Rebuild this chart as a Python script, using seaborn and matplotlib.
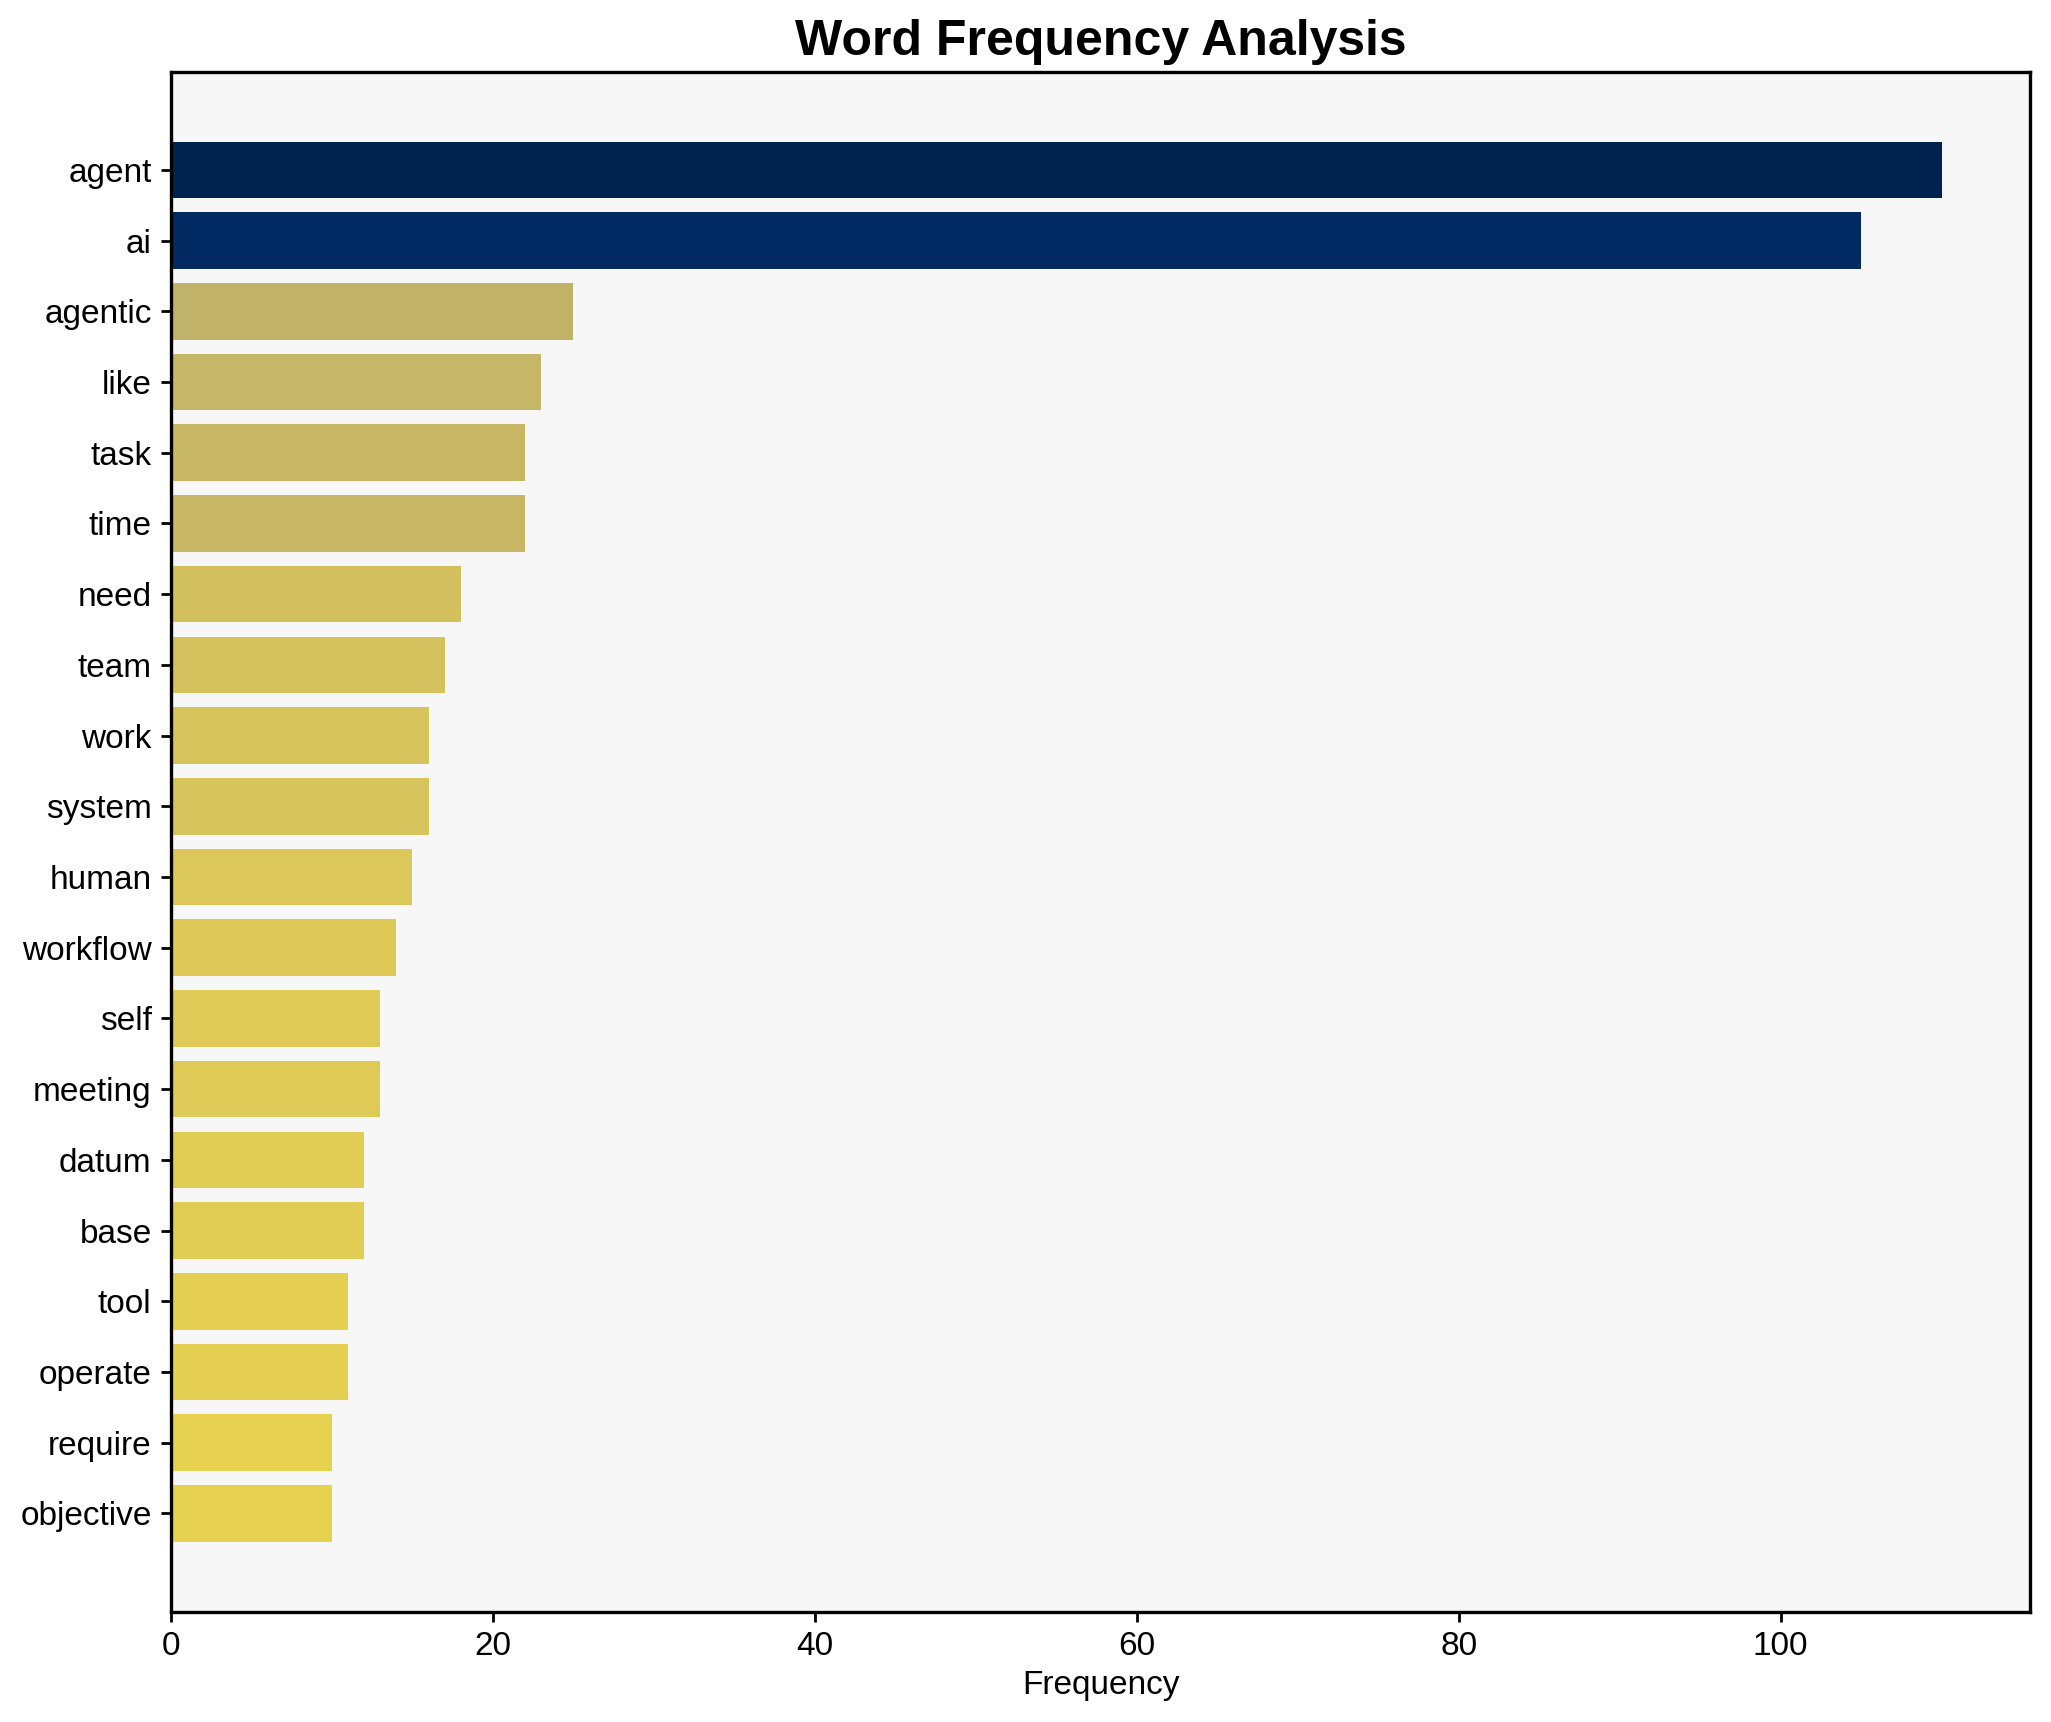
# Import libraries
import pandas as pd
import matplotlib
matplotlib.use("Agg")
import matplotlib.pyplot as plt
import seaborn as sns

# Word counts
words = ["agent", "ai", "agentic", "like", "task", "time", "need", "team",
         "work", "system", "human", "workflow", "self", "meeting", "datum",
         "base", "tool", "operate", "require", "objective"]
counts = [110, 105, 25, 23, 22, 22, 18, 17, 16, 16, 15, 14, 13, 13, 12,
          12, 11, 11, 10, 10]

df = pd.DataFrame({"word": words, "count": counts})

# colour each bar by its share of the top count (dark = frequent)
top = max(counts)
colors = [plt.cm.cividis(1 - c / top) for c in counts]

sns.set_style("white")
plt.rcParams["font.family"] = ["Liberation Sans", "DejaVu Sans"]
plt.rcParams["text.color"] = "black"
plt.rcParams["axes.labelcolor"] = "black"
plt.rcParams["xtick.color"] = "black"
plt.rcParams["ytick.color"] = "black"

fig, ax = plt.subplots(figsize=(10.255, 8.61), dpi=200)
fig.subplots_adjust(left=0.0834, right=0.9898, top=0.9584, bottom=0.0641)

sns.barplot(data=df, y="word", x="count", hue="word", palette=colors,
            order=words, legend=False, width=0.8, saturation=1,
            linewidth=0, ax=ax)

ax.set_facecolor("#f7f7f7")
for side in ax.spines.values():
    side.set_color("black")
    side.set_linewidth(1.2)

n = len(words)
pad = 0.05 * (n - 0.2)
ax.set_ylim(n - 0.6 + pad, -0.4 - pad)
ax.set_xlim(0, top * 1.05)

ax.set_title("Word Frequency Analysis", fontsize=18, fontweight="bold")
ax.set_xlabel("Frequency", fontsize=12, labelpad=3)
ax.set_ylabel("")
ax.tick_params(axis="both", labelsize=12, length=3.5, pad=3.5, width=1,
               color="black", bottom=True, left=True)

plt.savefig("out.png", dpi=200)
